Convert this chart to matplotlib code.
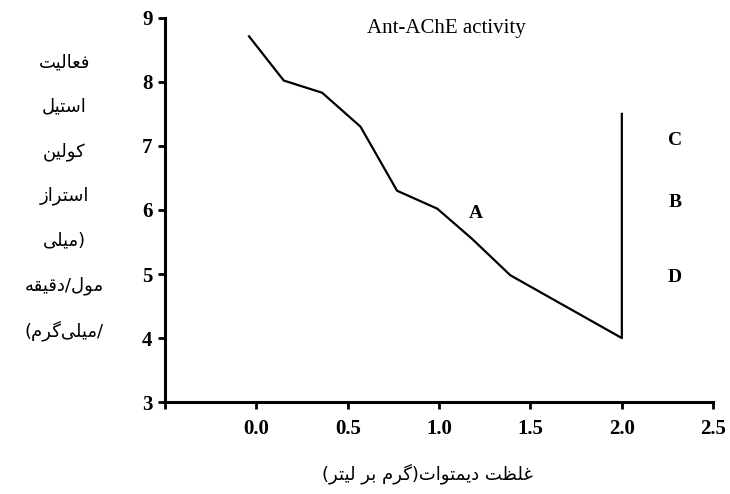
import matplotlib
matplotlib.use("Agg")
import matplotlib.pyplot as plt

# data
dose = [-0.04, 0.15, 0.36, 0.57, 0.77, 0.99, 1.18, 1.39, 2.0, 2.0]
activity = [8.71, 8.02, 7.83, 7.30, 6.30, 6.02, 5.55, 4.98, 4.0, 7.5]

x_ticks = [-0.5, 0.0, 0.5, 1.0, 1.5, 2.0, 2.5]
x_tick_labels = ["", "0.0", "0.5", "1.0", "1.5", "2.0", "2.5"]
y_ticks = [3, 4, 5, 6, 7, 8, 9]

title = "Ant-AChE activity"
letters = ["A", "B", "C", "D"]
letter_x = [1.20, 2.29, 2.29, 2.29]
letter_y = [5.95, 6.12, 7.09, 4.94]

y_label_lines = ["فعالیت", "استیل", "کولین", "استراز", "(میلی", "مول/دقیقه", "/میلی\u200cگرم)"]
x_label = "غلظت دیمتوات(گرم بر لیتر)"

# simple persian shaping (isolated, final, initial, medial)
FORMS = {
    'ا': ('\uFE8D', '\uFE8E'),
    'ب': ('\uFE8F', '\uFE90', '\uFE91', '\uFE92'),
    'ت': ('\uFE95', '\uFE96', '\uFE97', '\uFE98'),
    'د': ('\uFEA9', '\uFEAA'),
    'ر': ('\uFEAD', '\uFEAE'),
    'ز': ('\uFEAF', '\uFEB0'),
    'س': ('\uFEB1', '\uFEB2', '\uFEB3', '\uFEB4'),
    'ط': ('\uFEC1', '\uFEC2', '\uFEC3', '\uFEC4'),
    'ظ': ('\uFEC5', '\uFEC6', '\uFEC7', '\uFEC8'),
    'ع': ('\uFEC9', '\uFECA', '\uFECB', '\uFECC'),
    'غ': ('\uFECD', '\uFECE', '\uFECF', '\uFED0'),
    'ف': ('\uFED1', '\uFED2', '\uFED3', '\uFED4'),
    'ق': ('\uFED5', '\uFED6', '\uFED7', '\uFED8'),
    'ل': ('\uFEDD', '\uFEDE', '\uFEDF', '\uFEE0'),
    'م': ('\uFEE1', '\uFEE2', '\uFEE3', '\uFEE4'),
    'ن': ('\uFEE5', '\uFEE6', '\uFEE7', '\uFEE8'),
    'ه': ('\uFEE9', '\uFEEA', '\uFEEB', '\uFEEC'),
    'و': ('\uFEED', '\uFEEE'),
    'ی': ('\uFBFC', '\uFBFD', '\uFBFE', '\uFBFF'),
    'ک': ('\uFB8E', '\uFB8F', '\uFB90', '\uFB91'),
    'گ': ('\uFB92', '\uFB93', '\uFB94', '\uFB95'),
}


def shape(s):
    out = []
    for i, c in enumerate(s):
        if c not in FORMS:
            out.append(c)
            continue
        f = FORMS[c]
        prev = s[i - 1] if i > 0 else None
        nxt = s[i + 1] if i + 1 < len(s) else None
        jp = prev in FORMS and len(FORMS[prev]) == 4
        jn = len(f) == 4 and nxt in FORMS
        if jp and jn:
            out.append(f[3])
        elif jp:
            out.append(f[1])
        elif jn:
            out.append(f[2])
        else:
            out.append(f[0])
    vis = "".join(out).replace("\u200c", "")[::-1]
    return vis.translate(str.maketrans("()", ")("))


fig = plt.figure(figsize=(7.3, 4.94), dpi=100)
ax = fig.add_axes([0.226, 0.186, 0.751, 0.778])

ax.plot(dose, activity, color="black", lw=1.6)

ax.set_xlim(-0.5, 2.5)
ax.set_ylim(3, 9)
ax.set_xticks(x_ticks)
ax.set_xticklabels(x_tick_labels)
ax.set_yticks(y_ticks)
for s in ["top", "right"]:
    ax.spines[s].set_visible(False)
for s in ["left", "bottom"]:
    ax.spines[s].set_linewidth(2.2)
ax.tick_params(direction="out", length=5, width=2, pad=4)
ax.tick_params(axis="x", pad=7)
for lab in ax.get_xticklabels() + ax.get_yticklabels():
    lab.set_fontfamily("Liberation Serif")
    lab.set_fontweight("bold")
    lab.set_fontsize(15)

ax.text(1.04, 8.84, title, family="Liberation Serif", fontsize=15, ha="center", va="center")
for t, lx, ly in zip(letters, letter_x, letter_y):
    ax.text(lx, ly, t, family="Liberation Serif", fontweight="bold", fontsize=14, ha="center", va="center")

for i, line in enumerate(y_label_lines):
    fig.text(0.088, 1 - (62 + i * 44.7) / 494, shape(line), family="DejaVu Sans",
             fontsize=13, ha="center", va="center")
fig.text(0.585, 0.042, shape(x_label), family="DejaVu Sans", fontsize=13, ha="center", va="center")

fig.savefig("out.png", dpi=100)
